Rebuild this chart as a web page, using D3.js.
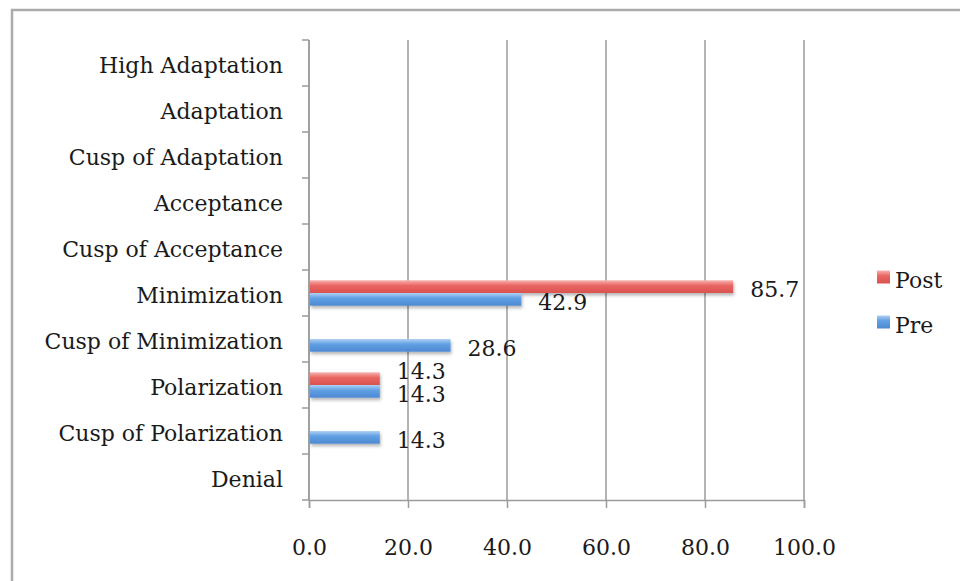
<!DOCTYPE html>
<html>
<head>
<meta charset="utf-8">
<script src="https://cdn.jsdelivr.net/npm/d3@7"></script>
<style>
  html, body { margin: 0; padding: 0; background: #fff; }
  svg { display: block; }
  text { font-family: "DejaVu Serif", "Liberation Serif", serif; fill: #1a1a1a; }
</style>
</head>
<body>
<script>
// Categories listed bottom to top
const categories = [
  "Denial",
  "Cusp of Polarization",
  "Polarization",
  "Cusp of Minimization",
  "Minimization",
  "Cusp of Acceptance",
  "Acceptance",
  "Cusp of Adaptation",
  "Adaptation",
  "High Adaptation"
];
const seriesNames = ["Post", "Pre"];
const postValues = [null, null, 14.3, null, 85.7, null, null, null, null, null];
const preValues  = [null, 14.3, 14.3, 28.6, 42.9, null, null, null, null, null];
const xTicks = [0, 20, 40, 60, 80, 100];

const width = 960, height = 581;
const margin = { left: 309, right: 156, top: 40, bottom: 81 };
const fontSize = "22px";

const svg = d3.select("body").append("svg")
  .attr("width", width).attr("height", height);

const defs = svg.append("defs");
const palette = {
  Post: { light: "#f8b3b1", main: "#ea6764", dark: "#d9524f" },
  Pre:  { light: "#b0d0f4", main: "#61a0e4", dark: "#4c89d2" }
};
seriesNames.forEach(name => {
  const g = defs.append("linearGradient").attr("id", "grad-" + name)
    .attr("x1", 0).attr("y1", 0).attr("x2", 0).attr("y2", 1);
  g.append("stop").attr("offset", "0%").attr("stop-color", palette[name].light);
  g.append("stop").attr("offset", "40%").attr("stop-color", palette[name].main);
  g.append("stop").attr("offset", "100%").attr("stop-color", palette[name].dark);
});
const shadow = defs.append("filter").attr("id", "barShadow")
  .attr("x", "-10%").attr("y", "-30%").attr("width", "130%").attr("height", "200%");
shadow.append("feDropShadow").attr("dx", 1).attr("dy", 2.5).attr("stdDeviation", 1.6)
  .attr("flood-color", "#000").attr("flood-opacity", 0.28);

// Outer frame
svg.append("rect")
  .attr("x", 12).attr("y", 10)
  .attr("width", width + 20).attr("height", height + 20)
  .attr("fill", "none").attr("stroke", "#ababab").attr("stroke-width", 2.5);

const x = d3.scaleLinear().domain([0, 100]).range([margin.left, width - margin.right]);
const y = d3.scaleBand().domain(categories.slice().reverse())
  .range([margin.top, height - margin.bottom]).paddingInner(0).paddingOuter(0);
const bandH = y.bandwidth();
const barH = bandH * 0.276;

const gridColor = "#9b9b9b";

// Vertical gridlines
svg.append("g").selectAll("line").data(xTicks).join("line")
  .attr("x1", d => x(d)).attr("x2", d => x(d))
  .attr("y1", margin.top).attr("y2", height - margin.bottom)
  .attr("stroke", gridColor).attr("stroke-width", 1.5);

// Bottom axis
const xAxis = svg.append("g")
  .attr("transform", `translate(0,${height - margin.bottom})`)
  .call(d3.axisBottom(x).tickValues(xTicks).tickFormat(d3.format(".1f"))
    .tickSize(8).tickPadding(31));
xAxis.select(".domain").attr("stroke", gridColor).attr("stroke-width", 1.5);
xAxis.selectAll(".tick line").attr("stroke", gridColor).attr("stroke-width", 1.5);
xAxis.selectAll("text").style("font-size", fontSize).attr("fill", "#1a1a1a")
  .style("font-family", "DejaVu Serif, serif");

// Left axis: ticks at band boundaries
const boundaries = d3.range(categories.length + 1).map(i => margin.top + i * bandH);
svg.append("line")
  .attr("x1", x(0)).attr("x2", x(0))
  .attr("y1", margin.top).attr("y2", height - margin.bottom)
  .attr("stroke", gridColor).attr("stroke-width", 1.5);
svg.append("g").selectAll("line").data(boundaries).join("line")
  .attr("x1", x(0) - 7).attr("x2", x(0))
  .attr("y1", d => d).attr("y2", d => d)
  .attr("stroke", gridColor).attr("stroke-width", 1.5);

// Category labels
svg.append("g").selectAll("text").data(categories).join("text")
  .attr("x", x(0) - 26)
  .attr("y", d => y(d) + bandH / 2 + 2)
  .attr("text-anchor", "end").attr("dominant-baseline", "central")
  .style("font-size", fontSize)
  .text(d => d);

// Bars
const series = [
  { name: "Post", values: postValues, offset: -barH, labelDy: [0, 0, -10, 0, 0, 0, 0, 0, 0, 0] },
  { name: "Pre",  values: preValues,  offset: 0,     labelDy: [0, 0, 0, 0, 0, 0, 0, 0, 0, 0] }
];
series.forEach(s => {
  const pts = categories.map((c, i) => ({ c, v: s.values[i], dy: s.labelDy[i] }))
    .filter(d => d.v != null);
  svg.append("g").attr("filter", "url(#barShadow)")
    .selectAll("rect").data(pts).join("rect")
    .attr("x", x(0) + 1)
    .attr("y", d => y(d.c) + bandH / 2 + s.offset)
    .attr("width", d => x(d.v) - x(0) - 1)
    .attr("height", barH)
    .attr("fill", `url(#grad-${s.name})`);
  svg.append("g").selectAll("text").data(pts).join("text")
    .attr("x", d => x(d.v) + 17)
    .attr("y", d => y(d.c) + bandH / 2 + s.offset + barH / 2 + 3 + d.dy)
    .attr("dominant-baseline", "central")
    .style("font-size", fontSize)
    .text(d => d3.format(".1f")(d.v));
});

// Legend
const legend = svg.append("g");
seriesNames.forEach((name, i) => {
  const ly = 277 + i * 45;
  legend.append("rect")
    .attr("x", 877).attr("y", ly - 6.5).attr("width", 13).attr("height", 13)
    .attr("fill", `url(#grad-${name})`);
  legend.append("text")
    .attr("x", 895).attr("y", ly + 3)
    .attr("dominant-baseline", "central")
    .style("font-size", fontSize)
    .text(name);
});
</script>
</body>
</html>
